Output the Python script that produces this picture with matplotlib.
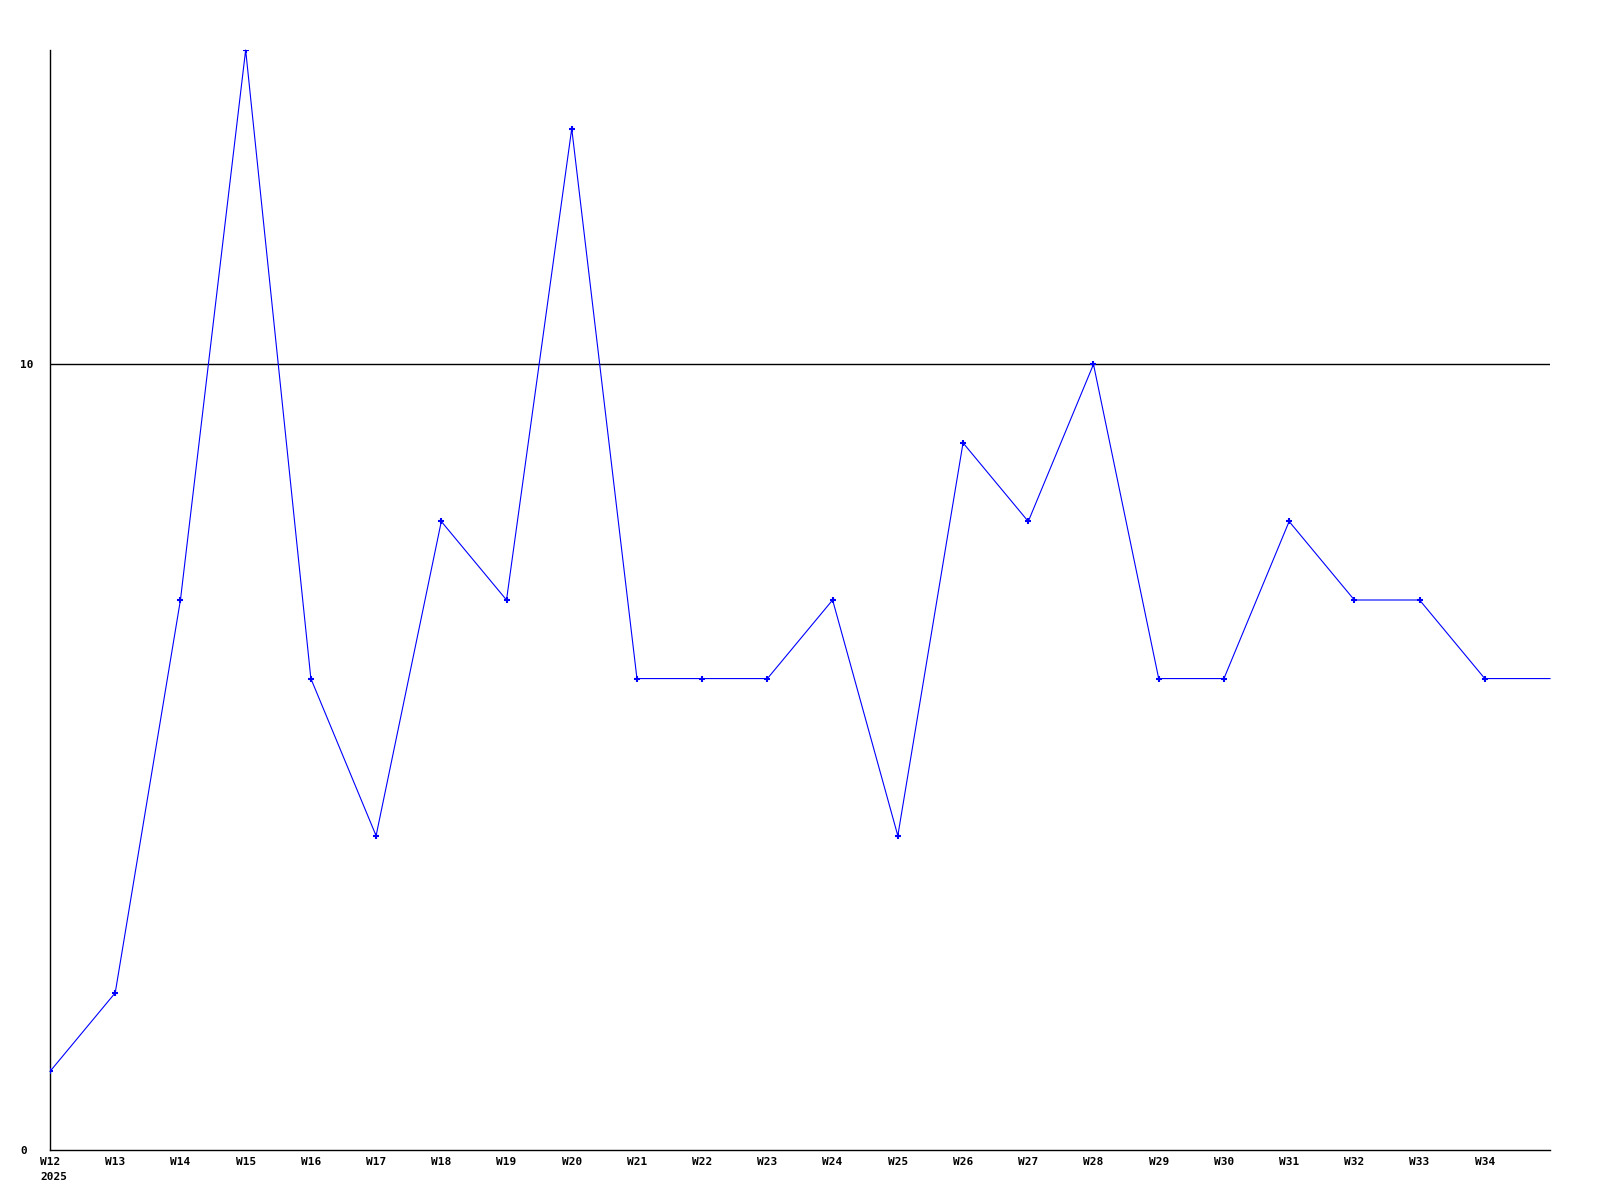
import matplotlib
matplotlib.use("Agg")
import matplotlib.pyplot as plt
from matplotlib.transforms import offset_copy

weeks = ["W12", "W13", "W14", "W15", "W16", "W17", "W18", "W19", "W20", "W21", "W22",
         "W23", "W24", "W25", "W26", "W27", "W28", "W29", "W30", "W31", "W32", "W33", "W34", "W35"]
values = [1, 2, 7, 14, 6, 4, 8, 7, 13, 6, 6, 6, 7, 4, 9, 8, 10, 6, 6, 8, 7, 7, 6, 6]
year_label = "2025"
yticks = [0, 10]

fig = plt.figure(figsize=(16, 12), dpi=100)
ax = fig.add_axes([50/1600, 1 - 1150/1200, 1500/1600, 1100/1200])

x = list(range(len(values)))
ax.plot(x, values, color="#0000ff", linewidth=0.8, clip_on=False, zorder=3)
ax.plot(x[:-1], values[:-1], linestyle="none", marker="+", markersize=4,
        markeredgewidth=1.5, color="#0000ff", zorder=4)

ax.set_xlim(0, len(values) - 1)
ax.set_ylim(0, 14)

for s in ["top", "right"]:
    ax.spines[s].set_visible(False)
for s in ["left", "bottom"]:
    ax.spines[s].set_color("black")
    ax.spines[s].set_linewidth(1.0)

ax.axhline(10, color="black", linewidth=1.0, zorder=2)

font = dict(family="DejaVu Sans Mono", weight="bold", size=8)
ax.set_xticks(x[:-1])
ax.set_xticklabels(weeks[:-1], **font)
ax.tick_params(axis="x", length=0, pad=5)
ax.set_yticks(yticks)
ax.set_yticklabels([str(v) for v in yticks], **font)
ax.tick_params(axis="y", length=0, pad=21.6)
for lab in ax.get_yticklabels():
    lab.set_horizontalalignment("left")

tr = offset_copy(ax.get_xaxis_transform(), fig=fig, x=-10, y=-22, units="dots")
ax.text(0, 0, year_label, transform=tr, ha="left", va="top", **font)

fig.savefig("out.png", dpi=100, facecolor="white")
